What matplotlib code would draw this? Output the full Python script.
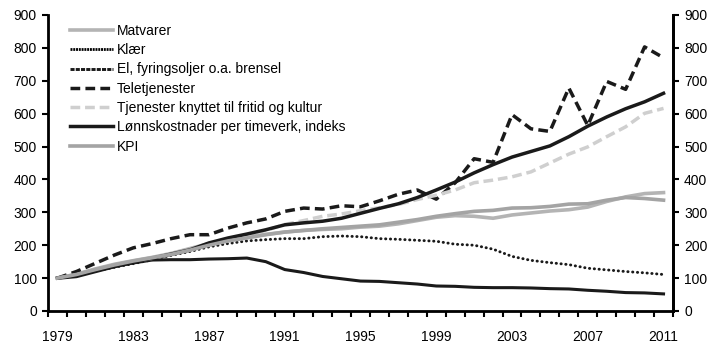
#!/usr/env/bin python

# Script to plot price indices 1979-2011 (1979 = 100)

import numpy as np
import matplotlib
matplotlib.use('Agg')
import matplotlib.pyplot as plt

plt.rcParams['font.family'] = ['Liberation Sans', 'DejaVu Sans']
fs = 10.0

# Data
years = list(range(1979, 2012))
matvarer = [100, 112, 128, 142, 153, 163, 175, 190, 205, 217, 225, 233, 240, 245, 248, 250,
            255, 258, 265, 275, 285, 290, 288, 282, 292, 298, 304, 308, 316, 333, 347, 357, 360]
klaer = [100, 108, 122, 135, 146, 155, 156, 156, 158, 159, 161, 150, 126, 117, 105, 98,
         91, 90, 86, 82, 76, 75, 72, 71, 71, 70, 68, 67, 63, 60, 56, 55, 52]
el = [100, 110, 122, 133, 144, 156, 169, 181, 195, 205, 213, 217, 220, 220, 226, 228,
      226, 220, 218, 215, 212, 203, 200, 188, 166, 154, 147, 141, 130, 125, 120, 116, 111]
tele = [100, 120, 145, 170, 192, 205, 220, 232, 232, 252, 268, 280, 303, 313, 310, 320,
        317, 335, 355, 368, 340, 390, 463, 452, 597, 554, 546, 678, 564, 698, 674, 803, 770]
tjenester = [100, 110, 124, 138, 150, 160, 172, 186, 202, 215, 228, 245, 263, 275, 288, 295,
             305, 314, 324, 339, 352, 368, 390, 398, 408, 423, 450, 477, 499, 530, 560, 601, 616]
lonn = [100, 105, 120, 135, 148, 160, 173, 186, 207, 222, 234, 247, 262, 268, 273, 282,
        297, 312, 326, 345, 368, 392, 420, 445, 468, 485, 502, 530, 562, 590, 615, 636, 662]
kpi = [100, 111, 126, 140, 152, 162, 172, 185, 200, 213, 222, 232, 240, 245, 250, 254,
       258, 262, 270, 278, 288, 296, 303, 306, 313, 314, 318, 325, 326, 337, 345, 342, 337]

labels = ['Matvarer', 'Klær', 'El, fyringsoljer o.a. brensel', 'Teletjenester',
          'Tjenester knyttet til fritid og kultur', 'Lønnskostnader per timeverk, indeks', 'KPI']
series = [matvarer, klaer, el, tele, tjenester, lonn, kpi]

# Line styles
styles = [
    dict(color='#b4b4b4', lw=2.6, ls='-'),
    dict(color='#1a1a1a', lw=2.2, ls='-'),
    dict(color='#1a1a1a', lw=2.1, ls=(0, (0.1, 1.55)), dash_capstyle='round'),
    dict(color='#1a1a1a', lw=2.5, ls=(0, (2.8, 1.5))),
    dict(color='#cfcfcf', lw=2.5, ls=(0, (2.8, 1.4))),
    dict(color='#1a1a1a', lw=2.5, ls='-'),
    dict(color='#a4a4a4', lw=2.6, ls='-'),
]

fig = plt.figure(figsize=(7.2, 3.51), dpi=100)
ax = fig.add_axes([48/720, 1-311/351, 625/720, 296/351])

x = np.arange(len(years))
for s, lab, st in zip(series, labels, styles):
    ax.plot(x, s, label=lab, **st)

ax.set_xlim(-0.5, len(years)-0.5)
ax.set_ylim(0, 900)
ax.set_yticks(range(0, 901, 100))

# Category axis: labels every 4 years, ticks between categories
ax.set_xticks(x[::4])
ax.set_xticklabels([str(y) for y in years[::4]], fontsize=fs)
ax.set_xticks(np.arange(-0.5, len(years), 1), minor=True)
ax.tick_params(axis='x', which='major', length=0, pad=14)
ax.tick_params(axis='x', which='minor', length=4, width=1.5, direction='out')
ax.tick_params(axis='y', length=4, width=1.5, direction='out', labelsize=fs, pad=4)

for side in ['top']:
    ax.spines[side].set_visible(False)
for side in ['left', 'bottom', 'right']:
    ax.spines[side].set_linewidth(2.0)

# Right axis
ax2 = ax.twinx()
ax2.set_ylim(0, 900)
ax2.set_yticks(range(0, 901, 100))
ax2.tick_params(axis='y', length=4, width=1.5, direction='out', labelsize=fs, pad=4)
ax2.spines['top'].set_visible(False)
ax2.spines['right'].set_linewidth(2.0)

leg = ax.legend(loc='upper left', bbox_to_anchor=(0.035, 0.97), frameon=False,
                fontsize=fs, handlelength=3.1, handletextpad=0.3, labelspacing=0.38,
                borderpad=0, borderaxespad=0)
# legend samples: fine dots for Klær, short dashes for El
leg.get_lines()[1].set_linestyle((0, (0.7, 0.3)))
leg.get_lines()[1].set_linewidth(2.0)
leg.get_lines()[1].set_color('black')
leg.get_lines()[2].set_linestyle((0, (1.4, 0.4)))
leg.get_lines()[2].set_dash_capstyle('butt')

plt.savefig('out.png', dpi=100)
